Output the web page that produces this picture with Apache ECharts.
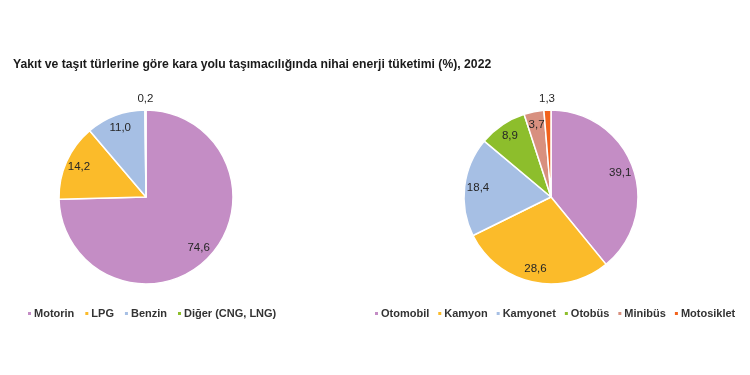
<!DOCTYPE html>
<html><head><meta charset="utf-8">
<script src="https://cdn.jsdelivr.net/npm/echarts@6/dist/echarts.min.js"></script>
<style>html,body{margin:0;padding:0;background:#fff}#c{width:750px;height:375px}</style>
</head><body><div id="c"></div>
<script>
const fuelNames = ['Motorin', 'LPG', 'Benzin', 'Diğer (CNG, LNG)'];
const fuelValues = [74.6, 14.2, 11.0, 0.2];
const vehicleNames = ['Otomobil', 'Kamyon', 'Kamyonet', 'Otobüs', 'Minibüs', 'Motosiklet'];
const vehicleValues = [39.1, 28.6, 18.4, 8.9, 3.7, 1.3];
const fuelColors = ['#C48DC5', '#FBBB2A', '#A6BFE4', '#8DBE2C'];
const vehicleColors = ['#C48DC5', '#FBBB2A', '#A6BFE4', '#8DBE2C', '#D8907F', '#F2621C'];

const fmt = v => v.toFixed(1).replace('.', ',');
const R = 87;
const FONT = 'Liberation Sans, Arial, sans-serif';

function pieSet(names, values, colors, center) {
  const base = {
    type: 'pie', center: center, startAngle: 90, clockwise: true,
    emphasis: {disabled: true}, animation: false
  };
  const visible = Object.assign({}, base, {
    radius: [0, R],
    label: {show: false}, labelLine: {show: false},
    itemStyle: {borderColor: '#fff', borderWidth: 1.5},
    data: names.map((n, i) => ({name: n, value: values[i], itemStyle: {color: colors[i]}}))
  });
  const labelStyle = {color: '#262626', fontSize: 11.5, fontFamily: FONT};
  const inner = Object.assign({}, base, {
    radius: [R * 0.62, R], silent: true, legendHoverLink: false,
    itemStyle: {color: 'transparent', borderWidth: 0},
    labelLine: {show: false},
    data: names.map((n, i) => ({
      name: n, value: values[i],
      label: Object.assign({show: values[i] >= 2, position: 'inside', formatter: () => fmt(values[i])}, labelStyle)
    }))
  });
  const outer = Object.assign({}, base, {
    radius: [R, R + 16], silent: true, legendHoverLink: false,
    itemStyle: {color: 'transparent', borderWidth: 0},
    labelLine: {show: false},
    data: names.map((n, i) => ({
      name: n, value: values[i],
      label: Object.assign({show: values[i] < 2, position: 'inside', formatter: () => fmt(values[i])}, labelStyle)
    }))
  });
  return [visible, inner, outer];
}

const chart = echarts.init(document.getElementById('c'), null, {renderer: 'canvas'});
const legendBase = {
  icon: 'rect', itemWidth: 5, itemHeight: 5, itemGap: 8, top: 303, width: 420,
  textStyle: {color: '#333', fontSize: 11, fontWeight: 'bold', fontFamily: FONT, padding: [0, 0, 0, -3]},
  selectedMode: false
};
chart.setOption({
  backgroundColor: '#fff',
  title: {
    text: 'Yakıt ve taşıt türlerine göre kara yolu taşımacılığında nihai enerji tüketimi (%), 2022',
    left: 8, top: 54,
    textStyle: {fontSize: 12.2, fontWeight: 'bold', color: '#1a1a1a', fontFamily: FONT}
  },
  legend: [
    Object.assign({}, legendBase, {left: 21, itemGap: 9,
      data: fuelNames.map((n, i) => ({name: n, itemStyle: {color: fuelColors[i]}}))}),
    Object.assign({}, legendBase, {left: 368, itemGap: 7,
      data: vehicleNames.map((n, i) => ({name: n, itemStyle: {color: vehicleColors[i]}}))})
  ],
  series: [
    ...pieSet(fuelNames, fuelValues, fuelColors, [146, 197]),
    ...pieSet(vehicleNames, vehicleValues, vehicleColors, [551, 197])
  ]
});
</script></body></html>
